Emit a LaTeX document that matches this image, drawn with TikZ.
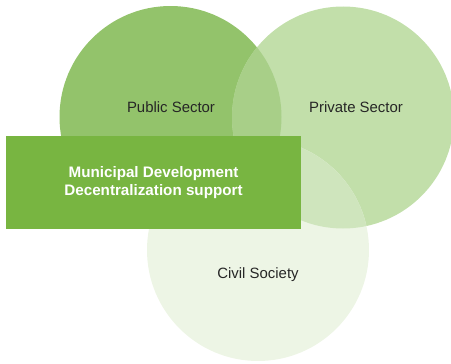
\documentclass[tikz,border=0pt]{standalone}
\usepackage{fontspec}
\setmainfont{Liberation Sans}
\usetikzlibrary{positioning}

\definecolor{pubgreen}{RGB}{147,195,107}
\definecolor{privgreen}{RGB}{194,223,170}
\definecolor{civgreen}{RGB}{237,245,229}
\definecolor{pubpriv}{RGB}{168,207,136}
\definecolor{privciv}{RGB}{207,229,189}
\definecolor{boxgreen}{RGB}{120,181,65}

\begin{document}
\begin{tikzpicture}
[x=0.75pt, y=-0.75pt,
sector/.style={circle, inner sep=0pt, minimum size=166.5pt},
label/.style={font=\fontsize{11.2}{13.5}\selectfont, text=black!85},
mainbox/.style={fill=boxgreen, inner sep=0pt, minimum width=221.25pt, minimum height=69.75pt,
  font=\fontsize{11.4}{13.5}\selectfont\bfseries, text=white, align=center}]

\useasboundingbox (0,0) rectangle (451,364);
\clip (0,0) rectangle (451,364);

\node[sector, fill=pubgreen] (public) at (170.5,117) {};
\node[sector, fill=privgreen] (private) at (343,117.5) {};
\node[sector, fill=civgreen] (civil) at (258,250) {};

% overlaps
\begin{scope}
\clip (public.center) circle (111);
\fill[pubpriv] (private.center) circle (111);
\end{scope}
\begin{scope}
\clip (civil.center) circle (111);
\fill[privciv] (private.center) circle (111);
\end{scope}

\node[label] (publiclabel) at (171,107.5) {Public Sector};
\node[label] (privatelabel) at (356,107.5) {Private Sector};
\node[label] (civillabel) at (258,275) {Civil Society};

\node[mainbox] (support) at (153.5,182.5) {Municipal Development\\Decentralization support};
\end{tikzpicture}
\end{document}
